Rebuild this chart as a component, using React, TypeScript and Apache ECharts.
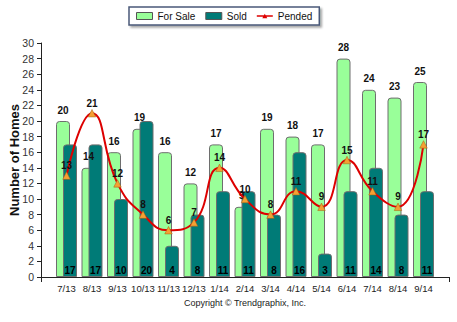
import React, { useEffect, useRef } from "react";
import * as echarts from "echarts";

const categories = ["7/13", "8/13", "9/13", "10/13", "11/13", "12/13", "1/14", "2/14", "3/14", "4/14", "5/14", "6/14", "7/14", "8/14", "9/14"];
const forSale = [20, 14, 16, 19, 16, 12, 17, 9, 19, 18, 17, 28, 24, 23, 25];
const sold = [17, 17, 10, 20, 4, 8, 11, 11, 8, 16, 3, 11, 14, 8, 11];
const pended = [13, 21, 12, 8, 6, 7, 14, 10, 8, 11, 9, 15, 11, 9, 17];

const FONT = "Liberation Sans, Arial, sans-serif";

export default function App() {
  const ref = useRef<HTMLDivElement>(null);
  useEffect(() => {
    if (!ref.current) return;
    const chart = echarts.init(ref.current, null, { renderer: "svg" });
    const cats = ["", ...categories, ""];
    const pad = (a: number[]) => [null, ...a, null];
    chart.setOption({
      animation: false,
      backgroundColor: "#ffffff",
      textStyle: { fontFamily: FONT },
      legend: {
        top: 7,
        left: 129,
        itemGap: 10,
        itemWidth: 16,
        itemHeight: 7,
        padding: [4, 7, 4, 7],
        borderColor: "#4a5878",
        borderWidth: 1.5,
        backgroundColor: "#ffffff",
        shadowColor: "rgba(0,0,0,0.35)",
        shadowBlur: 2,
        shadowOffsetX: 2,
        shadowOffsetY: 2,
        textStyle: { fontFamily: FONT, fontSize: 10, color: "#111" },
        data: [
          { name: "For Sale", icon: "rect", itemStyle: { color: "#99ff99", borderColor: "#555", borderWidth: 1 } },
          { name: "Sold", icon: "rect", itemStyle: { color: "#007b77", borderColor: "#555", borderWidth: 1 } },
          {
            name: "Pended",
            icon: "path://M0,3L16,3L16,4.5L0,4.5Z M5.5,6L8,1.5L10.5,6Z",
            itemStyle: { color: "#dd0000", borderWidth: 0 },
          },
        ],
      },
      grid: { left: 41, right: 8, top: 43, bottom: 45, outerBoundsMode: "none", containLabel: false },
      xAxis: {
        type: "category",
        data: cats,
        boundaryGap: false,
        axisLine: { lineStyle: { color: "#222", width: 1 } },
        axisTick: {
          show: true,
          length: 5,
          lineStyle: { color: "#222" },
          interval: (i: number) => i === 0 || i === cats.length - 1,
        },
        axisLabel: { interval: 0, fontSize: 9.5, color: "#222", margin: 6, fontFamily: FONT },
        splitLine: { show: false },
      },
      yAxis: {
        type: "value",
        min: 0,
        max: 30,
        interval: 2,
        axisLine: { show: true, lineStyle: { color: "#222", width: 1 } },
        axisTick: { show: true, length: 4, lineStyle: { color: "#222" } },
        axisLabel: { fontSize: 10.5, color: "#333", margin: 7, fontFamily: FONT },
        splitLine: { show: false },
      },
      series: [
        {
          name: "For Sale",
          type: "bar",
          data: pad(forSale),
          barWidth: 14,
          barGap: "-50%",
          itemStyle: { color: "#99ff99", borderColor: "#6e6e6e", borderWidth: 1, borderRadius: [3, 3, 0, 0] },
          label: { show: true, position: "top", distance: 6, fontSize: 10, fontWeight: "bold", color: "#111", fontFamily: FONT },
          z: 2,
        },
        {
          name: "Sold",
          type: "bar",
          data: pad(sold),
          barWidth: 14,
          itemStyle: { color: "#007b77", borderColor: "#6e6e6e", borderWidth: 1, borderRadius: [3, 3, 0, 0] },
          label: {
            show: true,
            position: "insideBottom",
            distance: 2,
            fontSize: 10,
            fontWeight: "bold",
            color: "#000",
            textBorderWidth: 0,
            fontFamily: FONT,
          },
          z: 2,
        },
        {
          name: "Pended",
          type: "line",
          data: pad(pended),
          smooth: 0.5,
          connectNulls: false,
          symbol: "triangle",
          symbolSize: 7.5,
          lineStyle: { color: "#dd0000", width: 2 },
          itemStyle: { color: "#f5a033", borderColor: "#a06010", borderWidth: 0.5 },
          label: { show: true, position: "top", distance: 1, fontSize: 10, fontWeight: "bold", color: "#111", fontFamily: FONT },
          z: 5,
        },
      ],
      graphic: [
        {
          type: "text",
          x: 14,
          y: 160,
          rotation: Math.PI / 2,
          style: {
            text: "Number of Homes",
            fontSize: 13,
            fontWeight: "bold",
            fill: "#111",
            fontFamily: FONT,
            align: "center",
            verticalAlign: "middle",
          },
        },
        {
          type: "text",
          x: 245,
          y: 303,
          style: {
            text: "Copyright © Trendgraphix, Inc.",
            fontSize: 9,
            fill: "#222",
            fontFamily: FONT,
            align: "center",
            verticalAlign: "middle",
          },
        },
      ],
    });
    return () => chart.dispose();
  }, []);
  return <div ref={ref} style={{ width: 457, height: 322, position: "absolute", left: 0, top: 0 }} />;
}
